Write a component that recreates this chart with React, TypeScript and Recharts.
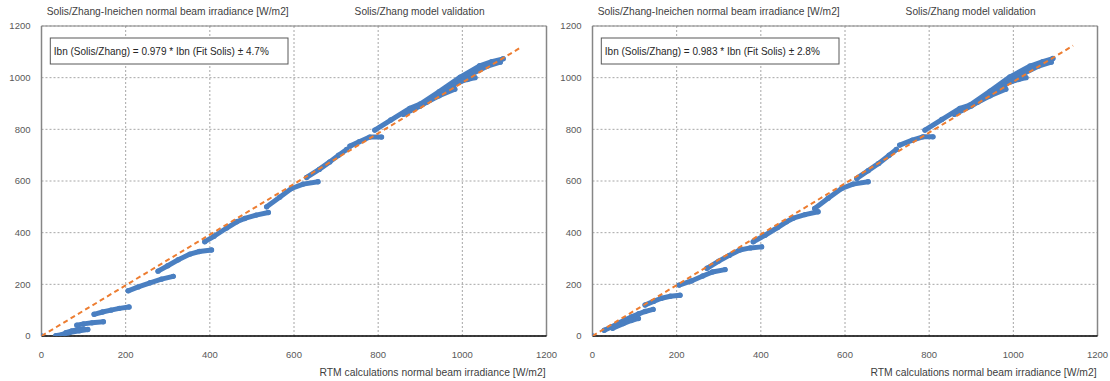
import React from 'react';
import { ScatterChart, Scatter, XAxis, YAxis, CartesianGrid, ReferenceLine } from 'recharts';

type Pt = [number, number];

const axisTicks = [0, 200, 400, 600, 800, 1000, 1200];

const titleLeft = 'Solis/Zhang-Ineichen  normal beam irradiance [W/m2]';
const titleRight = 'Solis/Zhang model validation';
const xAxisTitle = 'RTM calculations normal beam irradiance [W/m2]';
const leftFitLabel = 'Ibn (Solis/Zhang) = 0.979 * Ibn (Fit Solis) ± 4.7%';
const rightFitLabel = 'Ibn (Solis/Zhang) = 0.983 * Ibn (Fit Solis) ± 2.8%';

// Fit (dashed) lines: start and end points
const leftFit: Pt[] = [[0, 0], [1142, 1120]];
const rightFit: Pt[] = [[0, 0], [1142, 1124]];

// Scatter traces, one array per trace
const leftSegments: Pt[][] = [
  [[0, 0]],
  [[34, 1], [50, 6], [66, 13], [90, 20], [110, 25]],
  [[58, 13], [72, 20], [88, 25], [100, 27]],
  [[84, 42], [100, 47], [120, 51], [147, 55]],
  [[125, 84], [145, 93], [165, 100], [185, 107], [208, 112]],
  [[206, 175], [230, 190], [258, 206], [285, 220], [313, 231]],
  [[277, 251], [300, 272], [325, 295], [353, 317], [375, 327], [404, 333]],
  [[388, 365], [410, 386], [440, 418], [464, 442], [483, 455], [510, 468], [539, 478]],
  [[535, 500], [566, 537], [594, 571], [622, 588], [657, 597]],
  [[630, 614], [660, 645], [685, 674], [706, 700], [725, 722]],
  [[733, 735], [755, 752], [780, 770], [808, 770]],
  [[792, 797], [830, 836], [875, 881], [900, 898], [945, 946], [995, 1002], [1041, 1046], [1070, 1062], [1097, 1073]],
  [[860, 858], [900, 890], [940, 930], [980, 972], [1020, 1012], [1060, 1045], [1090, 1060]],
  [[915, 905], [945, 930], [982, 955]],
  [[994, 984], [1012, 993], [1030, 1000]],
];

const rightSegments: Pt[][] = [
  [[0, 0]],
  [[28, 22], [45, 35], [61, 49], [77, 62], [93, 74], [110, 86], [125, 95], [144, 103]],
  [[48, 30], [73, 48], [92, 60], [109, 68]],
  [[125, 120], [145, 134], [164, 146], [185, 154], [208, 158]],
  [[206, 197], [235, 213], [262, 232], [285, 248], [315, 257]],
  [[272, 262], [300, 290], [325, 312], [350, 333], [375, 341], [402, 345]],
  [[382, 365], [410, 390], [440, 420], [461, 442], [477, 456], [505, 470], [536, 481]],
  [[528, 494], [560, 533], [592, 571], [619, 588], [655, 597]],
  [[628, 610], [655, 640], [680, 668], [705, 700], [722, 722]],
  [[730, 739], [760, 758], [785, 771], [809, 771]],
  [[790, 797], [830, 838], [873, 881], [897, 894], [945, 948], [992, 1003], [1040, 1045], [1070, 1062], [1094, 1074]],
  [[860, 858], [900, 890], [940, 930], [980, 972], [1020, 1012], [1060, 1045], [1090, 1060]],
  [[915, 905], [945, 930], [982, 955]],
  [[994, 984], [1012, 993], [1030, 1000]],
];

const BLUE = '#4a7fc1';
const ORANGE = '#ed7d31';
const FONT = '"Liberation Sans", Arial, sans-serif';

const toObj = (pts: Pt[]) => pts.map(([x, y]) => ({ x, y }));

const Dot = (props: any) => <circle cx={props.cx} cy={props.cy} r={2.7} fill={BLUE} />;
const NoDot = () => <g />;

function Panel({ segments, fit, label }: { segments: Pt[][]; fit: Pt[]; label: string }) {
  return (
    <div style={{ position: 'relative', width: 558, height: 381 }}>
      <ScatterChart width={558} height={381} margin={{ top: 26, right: 11.5, bottom: 0, left: 0 }}>
        <CartesianGrid stroke="#a6a6a6" strokeDasharray="2 2" />
        <XAxis
          type="number"
          dataKey="x"
          domain={[0, 1200]}
          ticks={axisTicks}
          interval={0}
          height={45}
          tickLine={false}
          tickMargin={9}
          axisLine={{ stroke: '#000', strokeWidth: 1.5 }}
          tick={{ fill: '#595959', fontSize: 9.5, fontFamily: FONT }}
          allowDataOverflow
        />
        <YAxis
          type="number"
          dataKey="y"
          domain={[0, 1200]}
          ticks={axisTicks}
          interval={0}
          width={41.5}
          tickLine={false}
          tickMargin={5}
          axisLine={{ stroke: '#868686', strokeWidth: 1.5 }}
          tick={{ fill: '#595959', fontSize: 9.5, fontFamily: FONT }}
          allowDataOverflow
        />
        <ReferenceLine y={1200} stroke="#868686" strokeWidth={1.2} />
        <ReferenceLine x={1200} stroke="#868686" strokeWidth={1.5} />
        {segments.map((seg, i) => (
          <Scatter
            key={i}
            data={toObj(seg)}
            fill={BLUE}
            shape={Dot}
            line={{ stroke: BLUE, strokeWidth: 5, strokeLinecap: 'round', strokeLinejoin: 'round' } as any}
            isAnimationActive={false}
          />
        ))}
        <Scatter
          data={toObj(fit)}
          fill={ORANGE}
          shape={NoDot}
          line={{ stroke: ORANGE, strokeWidth: 2, strokeDasharray: '5 3.5' } as any}
          isAnimationActive={false}
        />
      </ScatterChart>
      <svg
        width={558}
        height={381}
        style={{ position: 'absolute', left: 0, top: 0, pointerEvents: 'none' }}
        fontFamily={FONT}
      >
        <text x={46.7} y={14.5} fontSize={10.5} fill="#404040" textLength={242} lengthAdjust="spacingAndGlyphs">
          {titleLeft}
        </text>
        <text x={354.6} y={14.5} fontSize={10.5} fill="#404040" textLength={130} lengthAdjust="spacingAndGlyphs">
          {titleRight}
        </text>
        <rect x={50.3} y={38} width={237.7} height={26} fill="#fff" stroke="#595959" strokeWidth={1} />
        <text x={53.8} y={54.5} fontSize={10.5} fill="#262626" textLength={215} lengthAdjust="spacingAndGlyphs">
          {label}
        </text>
        <text x={319.5} y={375.5} fontSize={10.5} fill="#404040" textLength={226} lengthAdjust="spacingAndGlyphs">
          {xAxisTitle}
        </text>
      </svg>
    </div>
  );
}

export default function App() {
  return (
    <div style={{ position: 'absolute', left: 0, top: 0, width: 1110, height: 381, background: '#fff', overflow: 'hidden' }}>
      <div style={{ position: 'absolute', left: 0, top: 0 }}>
        <Panel segments={leftSegments} fit={leftFit} label={leftFitLabel} />
      </div>
      <div style={{ position: 'absolute', left: 551, top: 0 }}>
        <Panel segments={rightSegments} fit={rightFit} label={rightFitLabel} />
      </div>
    </div>
  );
}
